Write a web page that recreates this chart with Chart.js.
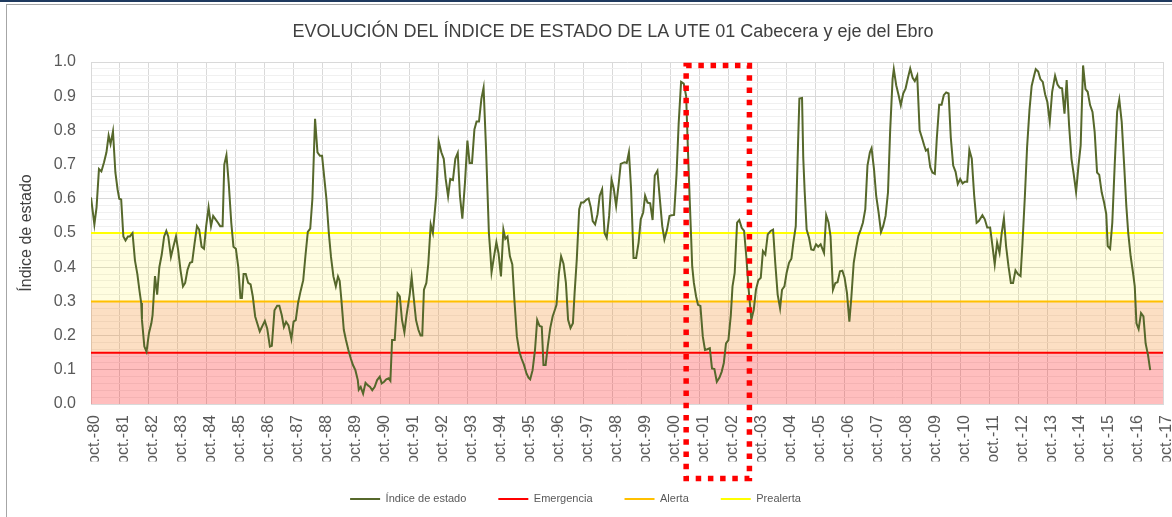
<!DOCTYPE html>
<html><head><meta charset="utf-8">
<script src="https://cdn.jsdelivr.net/npm/chart.js@4/dist/chart.umd.min.js"></script>
<style>
html,body{margin:0;padding:0;background:#fff;}
#wrap{position:relative;width:1172px;height:517px;overflow:hidden;background:#fff;}
#topbar{position:absolute;left:0;top:0;width:1172px;height:2px;background:#1f3a5f;}
#frame{position:absolute;left:6px;top:4px;width:1180px;height:530px;border-left:1px solid #a6a6a6;border-top:1px solid #a6a6a6;}
canvas{position:absolute;left:0;top:0;}
</style></head><body>
<div id="wrap"><canvas id="c" width="1172" height="517"></canvas><div id="topbar"></div><div id="frame"></div></div>
<script>
// Months since oct-1980 and the state index at each of them
const mes = [
 0,1.4,2.3,3.3,4.3,5.4,6.4,7.3,8.1,9.1,
 10.1,11.0,11.7,12.5,13.4,14.3,15.3,16.1,17.2,18.2,
 19.2,20.1,20.8,21.1,22.1,23.0,24.0,25.0,25.5,26.5,
 27.4,28.3,29.3,30.3,31.2,32.0,33.1,34.1,35.2,36.1,
 37.1,38.1,39.0,40.0,41.0,41.9,42.9,43.9,44.8,45.8,
 46.8,47.7,48.7,49.7,50.6,51.6,52.6,53.5,54.5,55.2,
 56.1,57.1,58.1,59.0,60.0,61.0,61.9,62.5,63.2,64.1,
 65.1,66.1,67.0,68.0,
 69.9,72.0,73.0,74.1,74.9,76.0,77.1,78.0,79.0,79.9,
 80.8,81.8,83.0,83.9,84.8,85.8,86.8,87.9,88.8,89.8,
 90.8,91.7,92.8,93.8,94.8,95.7,97.5,98.5,99.4,100.4,
 101.4,102.3,103.0,103.7,104.7,105.6,106.6,107.6,108.5,109.5,
 110.5,110.9,111.7,112.7,113.7,114.6,115.6,116.5,117.5,118.5,
 119.6,120.4,121.4,122.3,123.3,124.0,124.7,125.8,127.0,127.9,
 128.8,129.8,130.7,132.0,132.8,133.6,134.6,135.6,136.5,137.2,
 137.9,138.9,139.7,140.7,141.6,143.0,144.0,
 145.1,146.1,146.9,147.9,148.8,149.9,150.9,151.9,152.8,153.8,
 154.9,155.9,156.8,157.8,158.8,159.7,160.7,161.7,162.6,163.6,
 164.8,165.4,165.9,166.9,167.9,168.8,169.8,170.8,171.6,172.5,
 173.5,174.5,175.4,176.4,177.4,178.3,179.3,180.3,181.2,181.9,
 182.9,183.9,184.8,185.8,186.7,187.4,188.3,189.2,190.2,191.2,
 192.1,192.8,193.8,194.7,195.7,196.7,197.6,198.6,199.6,200.3,
 201.2,202.2,203.0,204.0,205.1,206.1,207.0,207.8,208.8,209.8,
 210.7,211.7,212.7,213.6,214.6,215.6,216.5,217.5,218.5,219.4,
 221.0,221.9,222.8,223.7,224.7,225.8,226.8,227.7,228.7,229.5,
 230.5,231.6,232.6,233.5,234.6,235.6,236.6,237.5,238.6,239.6,
 240.5,241.5,242.5,243.4,244.4,245.5,246.5,247.2,247.9,248.5,
 249.0,249.7,250.6,251.4,252.4,253.4,254.3,255.3,256.3,257.2,
 258.2,259.2,260.3,261.2,262.1,263.0,264.0,265.0,265.7,266.6,
 267.6,268.5,269.5,270.5,271.4,272.4,273.5,274.5,275.4,276.4,
 277.4,278.3,279.3,280.3,281.5,282.5,283.4,284.4,285.4,286.2,
 287.2,288.1,289.1,290.1,290.9,291.9,292.8,293.4,
 294.5,295.0,295.6,296.4,297.4,298.3,299.3,300.3,301.2,302.2,
 303.6,304.5,305.5,306.3,307.3,308.3,309.2,310.2,311.2,312.1,
 313.1,314.1,314.9,315.9,316.8,317.8,318.8,319.7,320.7,321.6,
 322.6,323.3,324.3,325.2,326.2,327.2,328.1,329.1,330.1,331.0,
 332.0,332.5,333.5,334.5,335.4,336.4,337.4,338.3,339.3,340.3,
 341.2,342.2,343.2,344.1,345.1,345.8,346.6,347.6,348.5,349.5,
 350.3,351.3,352.3,353.2,354.2,355.2,356.1,357.1,358.1,359.0,
 360.0,361.0,361.9,362.9,363.8,364.8,365.8,366.8,367.7,
 369.2,370.2,371.2,372.4,373.4,374.3,375.3,376.3,377.2,378.1,
 379.0,380.0,381.0,381.9,382.9,383.9,385.0,385.8,386.8,387.7,
 388.7,389.6,390.6,391.3,392.3,393.2,394.2,395.2,396.1,397.1,
 398.1,399.3,400.3,401.2,402.2,403.2,404.1,405.1,406.1,407.0,
 408.0,409.0,409.9,410.9,411.9,412.8,413.8,414.8,415.7,416.7,
 417.6,418.6,419.6,420.5,421.1,422.1,423.0,424.0,425.0,425.9,
 426.9,427.9,428.8,429.6,430.6,431.6,432.3,433.0,433.9,434.9,
 435.9,436.8,437.8,438.7
];
const indice = [
 .604,.525,.575,.687,.68,.707,.736,.785,.76,.797,
 .677,.628,.60,.598,.49,.478,.49,.49,.50,.42,
 .38,.33,.295,.246,.168,.153,.207,.236,.26,.374,
 .32,.40,.437,.49,.506,.49,.43,.46,.49,.45,
 .39,.344,.354,.393,.413,.415,.47,.52,.51,.46,
 .454,.52,.575,.52,.55,.54,.53,.52,.52,.70,
 .728,.64,.53,.46,.454,.40,.31,.31,.38,.38,
 .354,.35,.315,.256,
 .212,.243,.22,.168,.17,.274,.287,.287,.26,.225,
 .24,.23,.19,.241,.245,.297,.33,.362,.432,.503,
 .513,.60,.834,.736,.726,.726,.60,.50,.43,.373,
 .344,.373,.36,.305,.217,.187,.158,.133,.114,.099,
 .07,.042,.05,.03,.062,.055,.05,.04,.05,.07,
 .08,.06,.065,.072,.075,.068,.187,.187,.323,.315,
 .246,.21,.26,.32,.372,.315,.246,.217,.20,.20,
 .334,.354,.41,.525,.50,.61,.768,
 .736,.717,.658,.607,.658,.655,.717,.734,.609,.542,
 .648,.77,.705,.705,.803,.826,.826,.893,.925,.75,
 .50,.442,.385,.43,.473,.44,.373,.51,.483,.49,
 .432,.408,.30,.197,.153,.133,.115,.091,.077,.072,
 .099,.158,.246,.228,.226,.114,.114,.17,.222,.256,
 .275,.29,.383,.432,.41,.354,.246,.222,.236,.325,
 .423,.57,.589,.589,.597,.601,.575,.535,.525,.555,
 .609,.628,.50,.486,.55,.656,.63,.579,.64,.702,
 .707,.705,.736,.628,.427,.427,.472,.54,.56,.609,
 .589,.587,.538,.668,.682,.60,.52,.481,.51,.55,
 .552,.553,.67,.82,.942,.937,.90,.75,.61,.50,
 .403,.354,.315,.29,.287,.197,.158,.16,.163,.104,
 .102,.065,.077,.094,.12,.177,.187,.26,.344,.383,
 .53,.538,.515,.506,.432,.334,.246,.275,.334,.362,
 .369,.447,.437,.496,.506,.51,.413,.32,.28,.334,
 .344,.383,.413,.425,.472,.52,.75,.893,
 .895,.72,.62,.51,.486,.452,.45,.467,.46,.467,
 .442,.552,.53,.49,.334,.354,.356,.388,.39,.37,
 .325,.241,.31,.413,.452,.491,.51,.53,.57,.697,
 .736,.748,.687,.609,.56,.503,.52,.55,.619,.80,
 .95,.979,.932,.903,.874,.908,.923,.952,.981,.954,
 .944,.96,.80,.78,.756,.741,.745,.692,.677,.673,
 .775,.875,.875,.903,.911,.908,.78,.697,.679,.643,
 .658,.645,.65,.65,.743,.717,.609,.53,.535,
 .552,.54,.516,.516,.46,.408,.472,.442,.50,.543,
 .462,.403,.354,.354,.391,.38,.374,.47,.609,.75,
 .86,.93,.96,.979,.972,.95,.942,.905,.883,.825,
 .913,.96,.934,.925,.923,.849,.947,.815,.717,.673,
 .62,.697,.756,.99,.921,.913,.874,.854,.795,.677,
 .67,.619,.589,.555,.462,.454,.53,.70,.854,.89,
 .825,.70,.58,.50,.432,.383,.344,.236,.219,.266,
 .256,.177,.143,.099
];
const etiquetasAnio = ['oct.-80','oct.-81','oct.-82','oct.-83','oct.-84','oct.-85','oct.-86','oct.-87','oct.-88','oct.-89',
 'oct.-90','oct.-91','oct.-92','oct.-93','oct.-94','oct.-95','oct.-96','oct.-97','oct.-98','oct.-99',
 'oct.-00','oct.-01','oct.-02','oct.-03','oct.-04','oct.-05','oct.-06','oct.-07','oct.-08','oct.-09',
 'oct.-10','oct.-11','oct.-12','oct.-13','oct.-14','oct.-15','oct.-16','oct.-17'];
const umbralEmergencia = 0.15;
const umbralAlerta = 0.30;
const umbralPrealerta = 0.50;
const mesFinal = 444;
// highlighted period (months since oct-80) and its vertical extent in index units
const recuadro = {desde: 246.5, hasta: 272.7, arriba: 0.99, abajo: -0.218};

const desplTitulo = 26.5;
const desplLeyenda = -11;

Chart.defaults.font.family = "'Liberation Sans', Arial, sans-serif";

const isMajor = v => Math.abs(v * 10 - Math.round(v * 10)) < 1e-6;
const linea = (v) => [{x: 0, y: v}, {x: mesFinal, y: v}];

const ajustePlugin = {
  id: 'ajuste',
  afterLayout(chart) {
    const t = chart.titleBlock;
    if (t) { t.left += desplTitulo; t.right += desplTitulo; }
    const l = chart.legend;
    if (l) { l.left += desplLeyenda; l.right += desplLeyenda; }
  }
};
const recuadroPlugin = {
  id: 'recuadro',
  afterDraw(chart) {
    const {ctx, scales: {x, y}} = chart;
    const x1 = x.getPixelForValue(recuadro.desde), x2 = x.getPixelForValue(recuadro.hasta);
    const y1 = y.getPixelForValue(recuadro.arriba), y2 = y.getPixelForValue(recuadro.abajo);
    ctx.save();
    ctx.strokeStyle = '#ff0000';
    ctx.lineWidth = 5.5;
    ctx.setLineDash([5.5, 6.7]);
    ctx.strokeRect(x1, y1, x2 - x1, y2 - y1);
    ctx.restore();
  }
};

new Chart(document.getElementById('c'), {
  type: 'line',
  data: {
    datasets: [
      {label: 'Índice de estado', data: mes.map((m, i) => ({x: m, y: indice[i]})),
       borderColor: '#56682b', borderWidth: 2, pointRadius: 0, tension: 0, fill: false},
      {label: 'Emergencia', data: linea(umbralEmergencia), borderColor: '#ff0000', borderWidth: 2,
       pointRadius: 0, fill: 'origin', backgroundColor: 'rgba(255,0,0,0.255)'},
      {label: 'Alerta', data: linea(umbralAlerta), borderColor: '#ffc000', borderWidth: 2,
       pointRadius: 0, fill: {target: 1}, backgroundColor: 'rgba(245,140,40,0.28)'},
      {label: 'Prealerta', data: linea(umbralPrealerta), borderColor: '#ffff00', borderWidth: 2,
       pointRadius: 0, fill: {target: 2}, backgroundColor: 'rgba(255,240,0,0.12)'}
    ]
  },
  options: {
    responsive: false, animation: false, devicePixelRatio: 1,
    layout: {padding: {top: 16, left: 10, right: 9, bottom: 2.5}},
    plugins: {
      tooltip: {enabled: false},
      title: {display: true, text: 'EVOLUCIÓN DEL ÍNDICE DE ESTADO DE LA UTE 01 Cabecera y eje del Ebro',
        color: '#404040', font: {size: 18, weight: 'normal'}, padding: {top: 5.2, bottom: 19.2}},
      legend: {position: 'bottom', labels: {
        boxWidth: 30, boxHeight: 2, padding: 32, color: '#595959', font: {size: 11},
        generateLabels: (chart) => chart.data.datasets.map((ds, i) => ({
          text: ds.label, fillStyle: ds.borderColor, strokeStyle: ds.borderColor, lineWidth: 0,
          hidden: false, datasetIndex: i, fontColor: '#595959'}))
      }}
    },
    scales: {
      x: {type: 'linear', min: 0, max: mesFinal,
        ticks: {stepSize: 12, autoSkip: false, maxRotation: 90, minRotation: 90, padding: 11, labelOffset: 4,
          color: '#595959', font: {size: 16}, callback: v => etiquetasAnio[Math.round(v / 12)]},
        grid: {color: '#d9d9d9', drawTicks: false},
        border: {color: '#d9d9d9'},
        afterFit: s => { s.height = 57.5; s.paddingLeft = 0; s.paddingRight = 0; }
      },
      y: {type: 'linear', min: 0, max: 1,
        ticks: {stepSize: 0.02, autoSkip: false, padding: 15, color: '#595959', font: {size: 16},
          callback: v => isMajor(v) ? v.toFixed(1) : ''},
        grid: {drawTicks: false, color: c => (c.tick && isMajor(c.tick.value)) ? '#d9d9d9' : '#f0f0f0'},
        border: {color: '#d9d9d9'},
        title: {display: true, text: 'Índice de estado', color: '#404040', font: {size: 16}, padding: {top: 7.4, bottom: 0}},
        afterFit: s => { s.width = 81; s.paddingTop = 0; s.paddingBottom = 0; }
      }
    }
  },
  plugins: [ajustePlugin, recuadroPlugin]
});
</script>
</body></html>
